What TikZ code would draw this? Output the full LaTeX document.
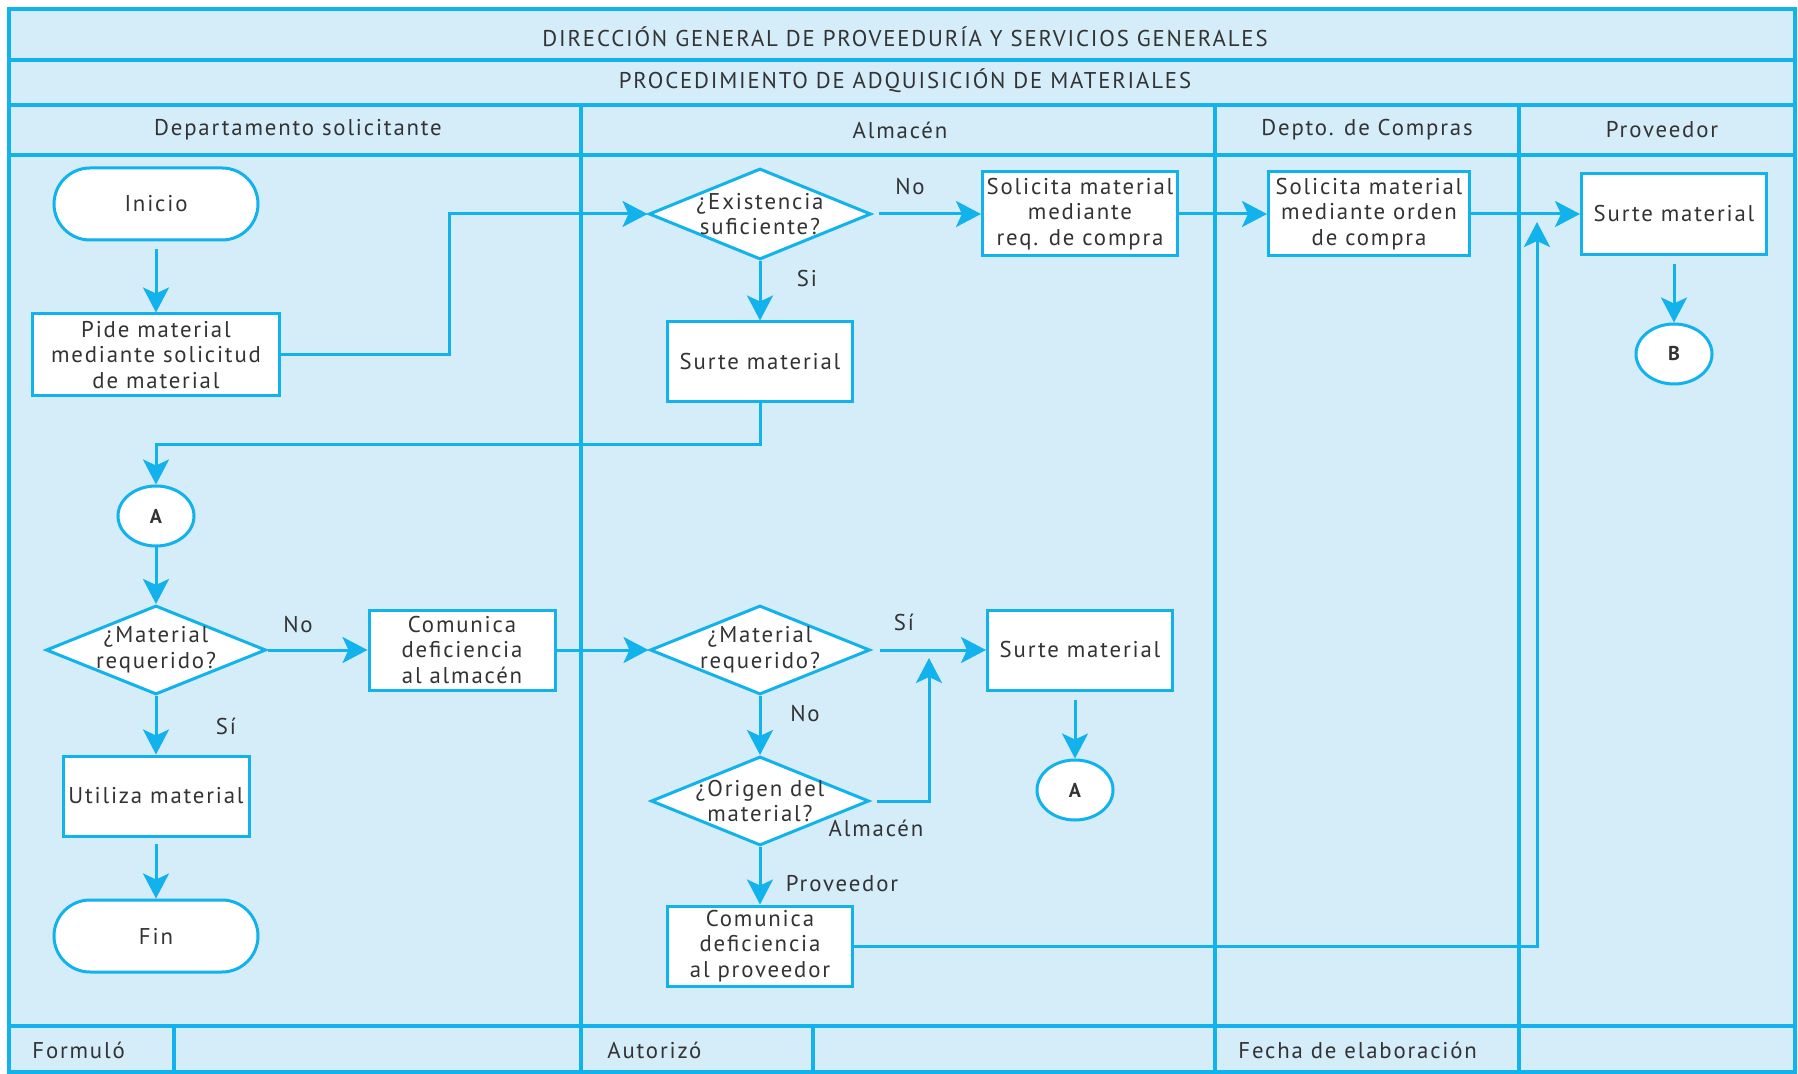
\documentclass[tikz,border=0pt]{standalone}
\usepackage{fontspec}
\setmainfont{PT Sans}[LetterSpace=8]
\usetikzlibrary{shapes.geometric,arrows.meta}
\definecolor{lanefill}{HTML}{D5ECF9}
\definecolor{rule}{HTML}{12B2EC}
\definecolor{ink}{HTML}{333333}
\begin{document}
\begin{tikzpicture}[x=0.5pt,y=-0.5pt,
  font=\fontsize{11.4}{12.8}\selectfont, text=ink,
  frameline/.style={draw=rule, line width=1.6pt},
  procbox/.style={draw=rule, fill=white, line width=1.5pt, align=center, inner sep=0pt},
  terminal/.style={procbox, rounded corners=18pt, minimum width=102pt, minimum height=36pt},
  decision/.style={procbox, diamond, aspect=2.45, inner sep=-2.5pt, minimum width=110pt, minimum height=44.5pt},
  connector/.style={procbox, ellipse, minimum width=38pt, minimum height=30pt, font=\fontsize{10}{11}\selectfont\bfseries},
  flow/.style={draw=rule, line width=1.5pt, -{Stealth[length=12.5pt,width=13pt,inset=3pt]}},
  lbl/.style={inner sep=1pt},
  head/.style={inner sep=0pt, font=\fontsize{11.4}{13}\selectfont},
]
\useasboundingbox (0,0) rectangle (1798,1074);

% sheet and grid
\fill[lanefill] (9,9) rectangle (1795,1072);
\draw[frameline] (9,9) rectangle (1795,1072);
\draw[frameline] (9,60) -- (1795,60);
\draw[frameline] (9,105) -- (1795,105);
\draw[frameline] (9,155) -- (1795,155);
\draw[frameline] (9,1026) -- (1795,1026);
\draw[frameline] (581,105) -- (581,1072);
\draw[frameline] (1215,105) -- (1215,1072);
\draw[frameline] (1519,105) -- (1519,1072);
\draw[frameline] (174,1026) -- (174,1072);
\draw[frameline] (813,1026) -- (813,1072);

% titles and lane headers
\node[head] (t1) at (905,37) {DIRECCIÓN GENERAL DE PROVEEDURÍA Y SERVICIOS GENERALES};
\node[head] (t2) at (905,81) {PROCEDIMIENTO DE ADQUISICIÓN DE MATERIALES};
\node[head] (h1) at (298,130) {Departamento solicitante};
\node[head] (h2) at (900,130) {Almacén};
\node[head] (h3) at (1367,130) {Depto. de Compras};
\node[head] (h4) at (1662,130) {Proveedor};

% footer
\node[head, anchor=west] (f1) at (32,1050) {Formuló};
\node[head, anchor=west] (f2) at (607,1050) {Autorizó};
\node[head, anchor=west] (f3) at (1238,1050) {Fecha de elaboración};

% Departamento solicitante
\node[terminal] (inicio) at (156,204) {Inicio};
\node[procbox, minimum width=123.5pt, minimum height=41pt] (pide) at (156,355) {Pide material\\mediante solicitud\\de material};
\node[connector] (conA1) at (156,516) {A};
\node[decision] (mr1) at (156,650) {¿Material\\requerido?};
\node[procbox, minimum width=93pt, minimum height=40pt] (coma) at (462,650) {Comunica\\deficiencia\\al almacén};
\node[procbox, minimum width=93pt, minimum height=40pt] (util) at (156,796) {Utiliza material};
\node[terminal] (fin) at (156,936) {Fin};

% Almacén
\node[decision, minimum width=111pt, minimum height=45.5pt] (ex) at (760,214) {¿Existencia\\suficiente?};
\node[procbox, minimum width=97.5pt, minimum height=42pt] (req) at (1080,214) {Solicita material\\mediante\\req. de compra};
\node[procbox, minimum width=92.5pt, minimum height=40pt] (surte1) at (760,362) {Surte material};
\node[decision] (mr2) at (760,650) {¿Material\\requerido?};
\node[procbox, minimum width=92.5pt, minimum height=40pt] (surte2) at (1080,650) {Surte material};
\node[connector] (conA2) at (1075,790) {A};
\node[decision, minimum width=109pt] (orig) at (760,801) {¿Origen del\\material?};
\node[procbox, minimum width=92.5pt, minimum height=40pt] (comp) at (760,946) {Comunica\\deficiencia\\al proveedor};

% Depto. de Compras
\node[procbox, minimum width=100.5pt, minimum height=42pt] (orden) at (1369,214) {Solicita material\\mediante orden\\de compra};

% Proveedor
\node[procbox, minimum width=92.5pt, minimum height=40.5pt] (surte3) at (1674,214) {Surte material};
\node[connector] (conB) at (1674,354) {B};

% junction points on existing lines
\coordinate (mj) at (929,650);
\coordinate (pj) at (1537,214);

% connectors
\draw[flow, shorten <=4pt] (inicio) -- (pide);
\draw[flow] (pide.east) -- ++(168,0) |- (ex.west);
\draw[flow, shorten <=3pt] (ex.east) -- (req.west);
\draw[flow] (ex.south) -- (surte1.north);
\draw[flow] (surte1.south) -- ++(0,41) -| (conA1.north);
\draw[flow] (conA1) -- (mr1.north);
\draw[flow] (mr1.east) -- (coma.west);
\draw[flow] (mr1.south) -- (util.north);
\draw[flow, shorten <=3pt] (util) -- (fin);
\draw[flow] (coma.east) -- (mr2.west);
\draw[flow, shorten <=4pt] (mr2.east) -- (surte2.west);
\draw[flow] (mr2.south) -- (orig.north);
\draw[flow, shorten <=3pt, shorten >=4pt] (orig.east) -| (mj);
\draw[flow] (orig.south) -- (comp.north);
\draw[flow, shorten <=4pt] (surte2.south -| conA2.north) -- (conA2.north);
\draw[flow, shorten >=4pt] (comp.east) -| (pj);
\draw[flow] (req.east) -- (orden.west);
\draw[flow] (orden.east) -- (surte3.west);
\draw[flow, shorten <=4pt] (surte3) -- (conB.north);

% branch labels
\node[lbl] (l1) at (910,187) {No};
\node[lbl] (l2) at (807,279) {Si};
\node[lbl] (l3) at (298,625) {No};
\node[lbl] (l4) at (226,726) {Sí};
\node[lbl] (l5) at (904,622) {Sí};
\node[lbl] (l6) at (805,714) {No};
\node[lbl] (l7) at (876,828) {Almacén};
\node[lbl] (l8) at (842,884) {Proveedor};
\end{tikzpicture}
\end{document}
